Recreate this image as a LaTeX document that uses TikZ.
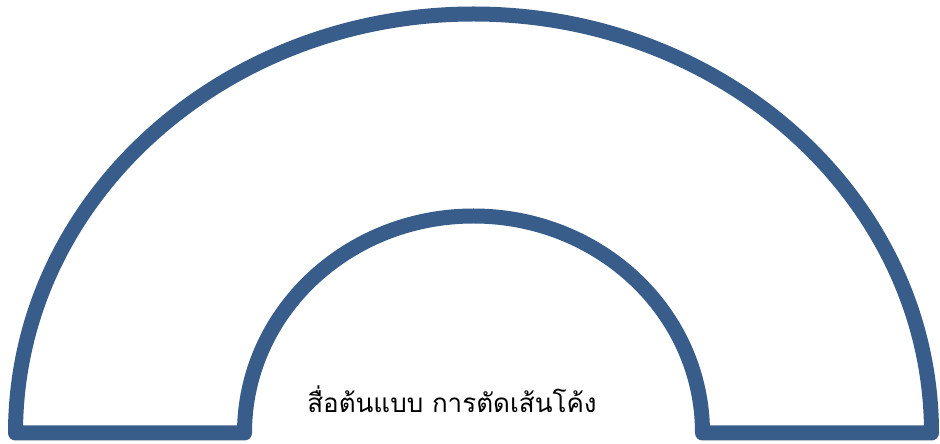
\documentclass[tikz,border=0pt]{standalone}
\usepackage{fontspec}
\newfontfamily\thaifont[Script=Thai]{Loma}
\definecolor{bandblue}{HTML}{385D8A}
\begin{document}
\begin{tikzpicture}[x=1pt,y=1pt,
  band/.style={draw=bandblue,line width=15pt,line join=round},
  caption/.style={font=\thaifont\fontsize{26}{30}\selectfont,text=black,inner sep=0pt,anchor=base}]
\useasboundingbox (0,0) rectangle (940,444);
\draw[band] (15.5,11) arc[start angle=180,end angle=0,x radius=458,y radius=419]
  -- (702.5,11) arc[start angle=0,end angle=180,x radius=229,y radius=217] -- cycle;
\node[caption] (label) at (452,31) {สื่อต้นแบบ การตัดเส้นโค้ง};
\end{tikzpicture}
\end{document}
